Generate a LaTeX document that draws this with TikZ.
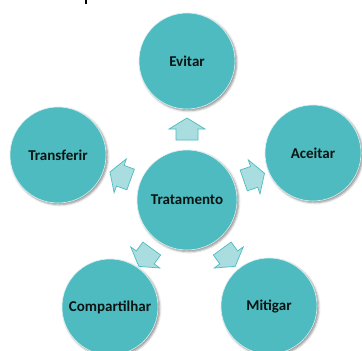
\documentclass[tikz,border=0pt]{standalone}
\usepackage{fontspec}
\setmainfont{Carlito}
\usetikzlibrary{shadows.blur}
\definecolor{tealfill}{HTML}{4DBBBF}
\definecolor{tealpale}{HTML}{A9DDE0}
\definecolor{labelink}{HTML}{0A1414}
\tikzset{
  bubble/.style={circle, fill=tealfill, draw=white!80!tealfill, line width=0.6pt,
    minimum size=96pt, inner sep=0pt, text=labelink,
    font=\fontsize{15}{17}\selectfont\bfseries,
    blur shadow={shadow xshift=1.6pt, shadow yshift=-1.6pt, shadow blur radius=2.2pt, shadow opacity=45}},
  hub/.style={bubble, minimum size=100pt},
  blockarrow/.style={fill=tealpale, draw=tealfill, line width=0.7pt, line join=miter}
}
\begin{document}
\begin{tikzpicture}[x=1pt, y=-1pt]
\useasboundingbox (0,0) rectangle (362,351);
% clipped stroke of a caption above the diagram
\fill[black] (84.5,0) rectangle (86.5,4);
% central hub and the five options around it
\node[hub] (hub) at (187,200) {Tratamento};
\node[bubble] (evitar) at (187,61) {Evitar};
\node[bubble] (aceitar) at (313,153) {Aceitar};
\node[bubble] (transferir) at (58,155) {Transferir};
\node[bubble] (compartilhar) at (110,307) {Compartilhar};
\node[bubble] (mitigar) at (269,306) {Mitigar};
% block arrows pointing out from the hub
\foreach \a in {90,19,160,234,306}{
  \begin{scope}[shift={(hub.center)}, x=1pt, y=1pt, rotate=\a]
    \draw[blockarrow] (60,-11) -- (71,-11) -- (71,-18) -- (82,0)
      -- (71,18) -- (71,11) -- (60,11) -- cycle;
  \end{scope}
}
\end{tikzpicture}
\end{document}
